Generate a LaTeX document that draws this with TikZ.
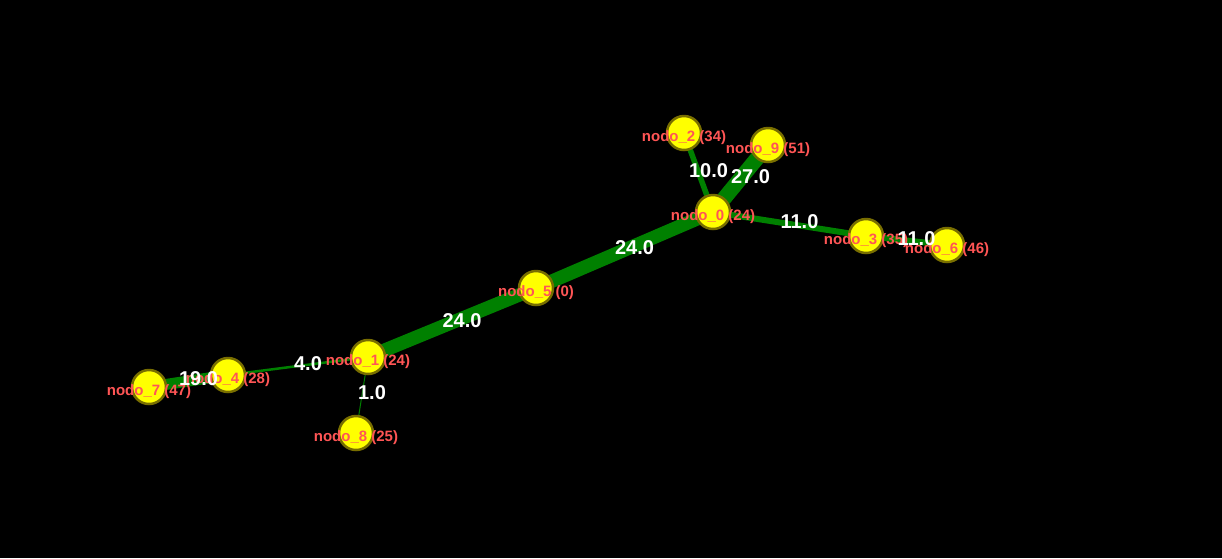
\documentclass[tikz,border=0pt]{standalone}
\usepackage{fontspec}
\setmainfont{Liberation Sans}
\usetikzlibrary{calc}
\usetikzlibrary{positioning}
\pgfdeclarelayer{canvas}
\pgfdeclarelayer{edges}
\pgfsetlayers{canvas,edges,main}
\definecolor{edgegreen}{RGB}{0,128,0}
\definecolor{nodeyellow}{RGB}{255,255,0}
\definecolor{nodeborder}{RGB}{120,110,0}
\definecolor{labelred}{RGB}{255,85,85}
\tikzstyle{nodo} = [draw=nodeborder, fill=nodeyellow, circle, line width=2.5pt, minimum size=34pt, inner sep=0]
\tikzstyle{nlabel} = [text=labelred, font=\bfseries\fontsize{15}{18}\selectfont, yshift=-4.5pt, inner sep=0]
\tikzstyle{elabel} = [text=white, font=\bfseries\fontsize{20}{24}\selectfont, xshift=10pt, yshift=2pt, inner sep=0]
\tikzstyle{arco} = [draw=edgegreen]

\begin{document}
\begin{tikzpicture}[x=1pt, y=-1pt]
    \begin{pgfonlayer}{canvas}
        \fill[black] (0,0) rectangle (1222,558);
    \end{pgfonlayer}
    \useasboundingbox (0,0) rectangle (1222,558);

    % nodes
    \node[nodo] (nodo_0) at (713,212) {};
    \node[nodo] (nodo_1) at (368,357) {};
    \node[nodo] (nodo_2) at (684,133) {};
    \node[nodo] (nodo_3) at (866,236) {};
    \node[nodo] (nodo_4) at (228,375) {};
    \node[nodo] (nodo_5) at (536,288) {};
    \node[nodo] (nodo_6) at (947,245) {};
    \node[nodo] (nodo_7) at (149,387) {};
    \node[nodo] (nodo_8) at (356,433) {};
    \node[nodo] (nodo_9) at (768,145) {};

    % edges, below the nodes
    \begin{pgfonlayer}{edges}
        \path[arco, line width=13.5pt] (nodo_0.center) -- (nodo_5.center);
        \path[arco, line width=13.5pt] (nodo_5.center) -- (nodo_1.center);
        \path[arco, line width=15pt] (nodo_0.center) -- (nodo_9.center);
        \path[arco, line width=5.5pt] (nodo_0.center) -- (nodo_2.center);
        \path[arco, line width=6pt] (nodo_0.center) -- (nodo_3.center);
        \path[arco, line width=6pt] (nodo_3.center) -- (nodo_6.center);
        \path[arco, line width=2.5pt] (nodo_1.center) -- (nodo_4.center);
        \path[arco, line width=11pt] (nodo_4.center) -- (nodo_7.center);
        \path[arco, line width=1pt] (nodo_1.center) -- (nodo_8.center);
    \end{pgfonlayer}

    % node labels
    \node[nlabel] (lab_0) at (nodo_0) {nodo\_0 (24)};
    \node[nlabel] (lab_1) at (nodo_1) {nodo\_1 (24)};
    \node[nlabel] (lab_2) at (nodo_2) {nodo\_2 (34)};
    \node[nlabel] (lab_3) at (nodo_3) {nodo\_3 (35)};
    \node[nlabel] (lab_4) at (nodo_4) {nodo\_4 (28)};
    \node[nlabel] (lab_5) at (nodo_5) {nodo\_5 (0)};
    \node[nlabel] (lab_6) at (nodo_6) {nodo\_6 (46)};
    \node[nlabel] (lab_7) at (nodo_7) {nodo\_7 (47)};
    \node[nlabel] (lab_8) at (nodo_8) {nodo\_8 (25)};
    \node[nlabel] (lab_9) at (nodo_9) {nodo\_9 (51)};

    % edge weights
    \path (nodo_0) -- (nodo_5) node[elabel, midway] {24.0};
    \path (nodo_5) -- (nodo_1) node[elabel, midway] {24.0};
    \path (nodo_0) -- (nodo_9) node[elabel, midway] {27.0};
    \path (nodo_0) -- (nodo_2) node[elabel, midway] {10.0};
    \path (nodo_0) -- (nodo_3) node[elabel, midway] {11.0};
    \path (nodo_3) -- (nodo_6) node[elabel, midway] {11.0};
    \path (nodo_1) -- (nodo_4) node[elabel, midway] {4.0};
    \path (nodo_4) -- (nodo_7) node[elabel, midway] {19.0};
    \path (nodo_1) -- (nodo_8) node[elabel, midway] {1.0};
\end{tikzpicture}
\end{document}
